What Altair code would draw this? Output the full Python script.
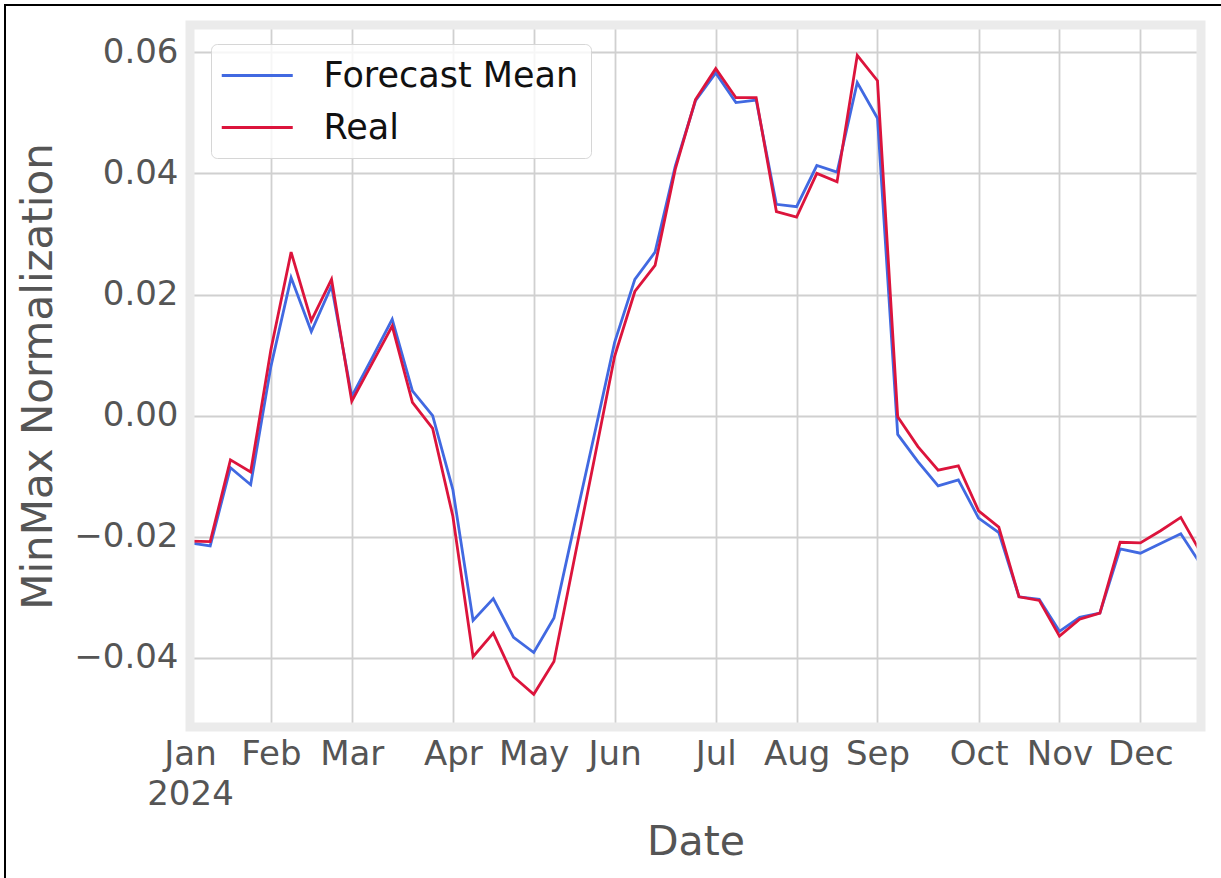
import altair as alt
import pandas as pd

# Weekly periods (week ending Sunday) through 2024
weeks = pd.date_range("2024-01-07", periods=51, freq="7D").strftime("%Y-%m-%d").tolist()

forecast_mean = [
    -0.0210, -0.0215, -0.0086, -0.0114, 0.0081, 0.0228, 0.0139, 0.0214, 0.0032, 0.0095,
    0.0159, 0.0041, 0.0000, -0.0122, -0.0338, -0.0302, -0.0366, -0.0391, -0.0334, -0.0182,
    -0.0031, 0.0121, 0.0225, 0.0270, 0.0412, 0.0520, 0.0566, 0.0517, 0.0521, 0.0349,
    0.0345, 0.0413, 0.0402, 0.0550, 0.0491, -0.0031, -0.0076, -0.0116, -0.0106, -0.0169,
    -0.0193, -0.0299, -0.0303, -0.0356, -0.0333, -0.0326, -0.0220, -0.0227, -0.0211, -0.0195,
    -0.0246,
]
real = [
    -0.0207, -0.0208, -0.0073, -0.0093, 0.0109, 0.0270, 0.0157, 0.0225, 0.0024, 0.0086,
    0.0148, 0.0022, -0.0021, -0.0166, -0.0398, -0.0359, -0.0431, -0.0460, -0.0406, -0.0238,
    -0.0071, 0.0098, 0.0205, 0.0248, 0.0407, 0.0522, 0.0573, 0.0525, 0.0525, 0.0337,
    0.0328, 0.0400, 0.0386, 0.0595, 0.0553, -0.0002, -0.0051, -0.0090, -0.0083, -0.0157,
    -0.0184, -0.0299, -0.0305, -0.0364, -0.0336, -0.0326, -0.0209, -0.0210, -0.0190, -0.0168,
    -0.0227,
]

series_names = ["Forecast Mean", "Real"]
series_colors = ["#4169E1", "#DC143C"]

# Month ticks sit on the first week ending in each month
month_ticks = [(1, 7), (2, 4), (3, 3), (4, 7), (5, 5), (6, 2), (7, 7), (8, 4), (9, 1), (10, 6), (11, 3), (12, 1)]
y_ticks = [-0.04, -0.02, 0.0, 0.02, 0.04, 0.06]

W, H = 1011, 702

df = pd.DataFrame({
    "Date": weeks * 2,
    "Series": [series_names[0]] * len(weeks) + [series_names[1]] * len(weeks),
    "Value": forecast_mean + real,
})

x_enc = alt.X(
    "Date:T",
    scale=alt.Scale(type="utc", nice=False),
    axis=alt.Axis(
        values=[alt.DateTime(year=2024, month=m, date=d, utc=True) for m, d in month_ticks],
        labelExpr="utcmonth(datum.value) == 0 ? [utcFormat(datum.value, '%b'), utcFormat(datum.value, '%Y')] : utcFormat(datum.value, '%b')",
        labelLineHeight=40,
        labelPadding=10,
        labelOverlap=False,
        labelFlush=False,
        labelAlign="center",
        title="Date",
        titleY=127,
        titleBaseline="alphabetic",
    ),
)
y_enc = alt.Y(
    "Value:Q",
    scale=alt.Scale(domain=[-0.0514, 0.0645], nice=False, zero=False),
    axis=alt.Axis(
        values=y_ticks,
        format=".2f",
        labelPadding=12,
        labelOverlap=False,
        title="MinMax Normalization",
        titleFontSize=42,
        titleAngle=270,
        titleX=-139,
        titleY=H / 2,
        titleAlign="center",
        titleBaseline="alphabetic",
    ),
)

# Legend key: a horizontal stroke twice as wide as the nominal symbol box,
# so the entry height stays close to the label height.
half_len = 35.5
color_enc = alt.Color(
    "Series:N",
    scale=alt.Scale(domain=series_names, range=series_colors),
    legend=alt.Legend(
        orient="none",
        legendX=21,
        legendY=19,
        title=None,
        symbolType="M-2,0H2",
        symbolSize=half_len * half_len,
        symbolStrokeWidth=2.8,
        symbolOffset=14.75,
        labelFont="DejaVu Sans",
        labelFontSize=35,
        labelColor="#111111",
        labelLimit=600,
        labelOffset=46.75,
        padding=12,
        rowPadding=14,
        fillColor="rgba(255,255,255,0.8)",
        strokeColor="#d6d6d6",
        cornerRadius=6,
    ),
)

base = alt.Chart(df).encode(x=x_enc, y=y_enc, color=color_enc)
forecast_line = base.transform_filter(alt.datum.Series == series_names[0]).mark_line(strokeWidth=2.8)
real_line = base.transform_filter(alt.datum.Series == series_names[1]).mark_line(strokeWidth=2.8)

one_row = alt.Data(values=[{}])
# Thick light-grey frame around the plotting area
frame = alt.Chart(one_row).mark_rect(fillOpacity=0, stroke="#ebebeb", strokeWidth=9).encode(
    x=alt.value(0), x2=alt.value(W), y=alt.value(0), y2=alt.value(H)
)
# Outer figure border
border = alt.Chart(one_row).mark_rect(fillOpacity=0, stroke="black", strokeWidth=2).encode(
    x=alt.value(-185), x2=alt.value(W + 26), y=alt.value(-20), y2=alt.value(H + 200)
)

chart = (
    alt.layer(forecast_line, real_line, frame, border)
    .properties(
        width=W,
        height=H,
        autosize=alt.AutoSizeParams(type="none"),
        padding={"left": 190, "top": 25, "right": 20, "bottom": 151},
        background="white",
    )
    .configure_view(stroke=None)
    .configure_axis(
        domain=False,
        ticks=False,
        tickSize=0,
        grid=True,
        gridColor="#d0d0d0",
        gridWidth=1.8,
        labelFont="DejaVu Sans",
        labelFontSize=34,
        labelColor="#555555",
        titleFont="DejaVu Sans",
        titleFontSize=41,
        titleFontWeight="normal",
        titleColor="#555555",
    )
)

chart.save("out.html", embed_options={"renderer": "svg", "actions": False})
